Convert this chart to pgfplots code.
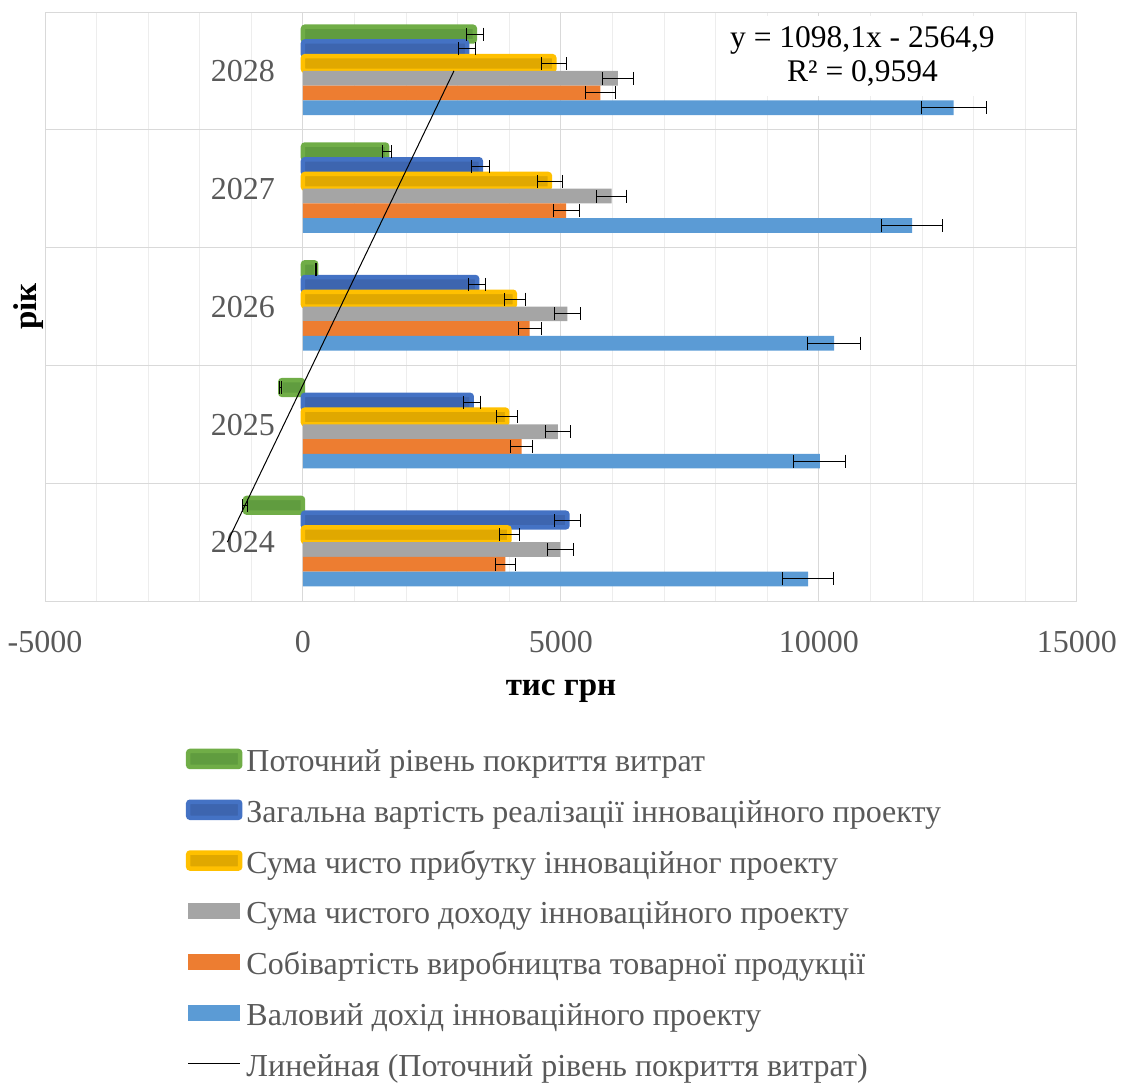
\documentclass[border=0pt]{standalone}
\usepackage{pgfplots}
\pgfplotsset{compat=1.18}
\usepackage{pgfplotstable}
\usepackage{fontspec}
\setmainfont{Liberation Serif}

\definecolor{cGreen}{HTML}{70AD47}
\definecolor{cGreenIn}{HTML}{609C3F}
\definecolor{cBlue}{HTML}{4472C4}
\definecolor{cBlueIn}{HTML}{3D65AF}
\definecolor{cYellow}{HTML}{FFC000}
\definecolor{cYellowIn}{HTML}{E0A800}
\definecolor{cGray}{HTML}{A5A5A5}
\definecolor{cOrange}{HTML}{ED7D31}
\definecolor{cLBlue}{HTML}{5B9BD5}
\definecolor{cText}{HTML}{595959}
\definecolor{cGrid}{HTML}{D9D9D9}
\definecolor{cGridMinor}{HTML}{EDEDED}

% idx: 1 = 2024 ... 5 = 2028
\pgfplotstableread{
idx green blue yellow gray orange lblue
1 -1125 5125 4000 4990 3920 9790
2 -440 3270 3955 4940 4235 10015
3 255 3375 4105 5125 4393 10293
4 1630 3445 4785 5980 5100 11805
5 3330 3180 4870 6100 5765 12610
}\data

\pgfplotsset{
  errs/.style={forget plot, sharp plot, draw=none, mark=none,
    error bars/.cd, x dir=both, x fixed relative=0.05,
    error bar style={draw=black, line width=1pt, sharp corners},
    error mark options={draw=black, line width=1pt, mark size=6.5pt, rotate=90},
  },
  glowbar/.style 2 args={xbar, bar width=0.125, fill=#2, draw=#1,
    line width=4.5pt, rounded corners=2pt,
    legend image code/.code={\draw[##1] (0pt,-3.5pt) rectangle (52pt,12.5pt);}},
  flatbar/.style={xbar, bar width=0.125, fill=#1, draw=none,
    legend image code/.code={\fill[##1] (0pt,-3.5pt) rectangle (52pt,12.5pt);}},
  trend/.style={sharp plot, black, line width=1pt,
    legend image code/.code={\draw[##1] (0pt,4.5pt) -- (52pt,4.5pt);}},
}

\begin{document}
\begin{tikzpicture}
\useasboundingbox (-45pt,-483pt) rectangle (1084pt,601pt);
\begin{axis}[
  at={(0pt,0pt)}, anchor=south west,
  width=1032pt, height=589pt, scale only axis,
  xmin=-5000, xmax=15000, ymin=0.5, ymax=5.5,
  xtick={-5000,0,5000,10000,15000},
  xticklabels={-5000,0,5000,10000,15000},
  scaled x ticks=false,
  minor x tick num=4,
  ytick={1,2,3,4,5},
  yticklabels={2024,2025,2026,2027,2028},
  minor ytick={0.5,1.5,2.5,3.5,4.5,5.5},
  xmajorgrids, xminorgrids, yminorgrids,
  major x grid style={cGrid, line width=1pt},
  minor x grid style={cGridMinor, line width=1pt},
  minor y grid style={cGrid, line width=1pt},
  axis line style={cGrid, line width=1pt},
  major tick length=0pt, minor tick length=0pt,
  tick style={draw=none},
  x tick label style={font=\fontsize{32}{38}\selectfont, text=cText,
    anchor=base, yshift=-51pt, inner sep=0pt},
  y tick label style={font=\fontsize{32}{38}\selectfont, text=cText,
    anchor=base east, xshift=230pt, yshift=-10.7pt, inner sep=0pt},
  xlabel={тис грн}, ylabel={рік},
  xlabel style={font=\fontsize{33}{40}\selectfont\bfseries,
    at={(axis description cs:0.5,-0.1596)}, anchor=base},
  ylabel style={font=\fontsize{33}{40}\selectfont\bfseries,
    at={(axis description cs:-0.0087,0.5)}, anchor=base},
  legend style={at={(axis description cs:0.1364,-0.2500)}, anchor=north west,
    draw=none, fill=none, inner sep=0pt, row sep=20.8pt, column sep=4pt,
    font=\fontsize{32}{38}\selectfont, text=cText,
    nodes={inner sep=0pt, text height=23pt, text depth=7pt}},
  legend cell align=left,
]
\addplot[glowbar={cGreen}{cGreenIn}, bar shift=0.3125] table[x=green, y=idx] {\data};
\addplot[glowbar={cBlue}{cBlueIn}, bar shift=0.1875] table[x=blue, y=idx] {\data};
\addplot[glowbar={cYellow}{cYellowIn}, bar shift=0.0625] table[x=yellow, y=idx] {\data};
\addplot[flatbar=cGray, bar shift=-0.0625] table[x=gray, y=idx] {\data};
\addplot[flatbar=cOrange, bar shift=-0.1875] table[x=orange, y=idx] {\data};
\addplot[flatbar=cLBlue, bar shift=-0.3125] table[x=lblue, y=idx] {\data};
\addplot[trend] coordinates {(-1466.8,1) (2925.6,5)};
% error bars, placed at each bar's shifted centre
\addplot[errs] table[x=green, y expr=\thisrow{idx}+0.3125] {\data};
\addplot[errs] table[x=blue, y expr=\thisrow{idx}+0.1875] {\data};
\addplot[errs] table[x=yellow, y expr=\thisrow{idx}+0.0625] {\data};
\addplot[errs] table[x=gray, y expr=\thisrow{idx}-0.0625] {\data};
\addplot[errs] table[x=orange, y expr=\thisrow{idx}-0.1875] {\data};
\addplot[errs] table[x=lblue, y expr=\thisrow{idx}-0.3125] {\data};
\legend{Поточний рівень покриття витрат,
  Загальна вартість реалізації інноваційного проекту,
  Сума чисто прибутку інноваційног проекту,
  Сума чистого доходу інноваційного проекту,
  Собівартість виробництва товарної продукції,
  Валовий дохід інноваційного проекту,
  Линейная (Поточний рівень покриття витрат)}
\node[fill=white, minimum width=285pt, minimum height=80pt, inner sep=0pt,
  align=center, font=\fontsize{31.5}{34}\selectfont]
  at (axis cs:10843,5.1265) {y = 1098,1x - 2564,9\\R² = 0,9594};
\end{axis}
\end{tikzpicture}
\end{document}
